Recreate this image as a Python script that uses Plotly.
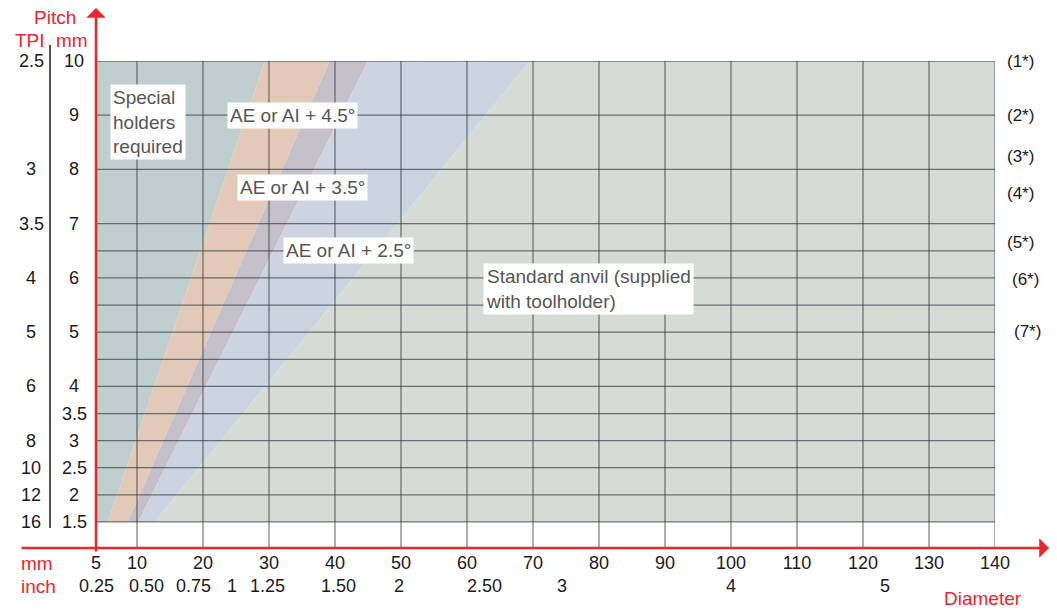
import plotly.graph_objects as go

# pitch (mm) rows of the grid and the labelled ones
grid_pitch = [10, 9, 8, 7, 6.5, 6, 5.5, 5, 4.5, 4, 3.5, 3, 2.5, 2, 1.5]
mm_labels = [10, 9, 8, 7, 6, 5, 4, 3.5, 3, 2.5, 2, 1.5]
tpi_labels = ["2.5", "3", "3.5", "4", "5", "6", "8", "10", "12", "16"]
tpi_rows = [10, 8, 7, 6, 5, 4, 3, 2.5, 2, 1.5]

# diameter (mm) columns
diam_grid = [10, 20, 30, 40, 50, 60, 70, 80, 90, 100, 110, 120, 130, 140]
inch_labels = ["0.25", "0.50", "0.75", "1", "1.25", "1.50", "2", "2.50", "3", "4", "5"]
inch_pos = [None, 11.4, 18.6, 24.4, 29.8, 40.6, 49.7, 62.6, 74.4, 100, 123.3]

# zone borders: diameter at pitch 1.5 (bottom) and pitch 10 (top)
b1 = (5.6, 29.4)
b2 = (8.6, 39.2)
b3 = (10.2, 45.0)
b4 = (12.7, 69.5)

zone_labels = ["Special<br>holders<br>required", "AE or AI + 4.5°", "AE or AI + 3.5°",
               "AE or AI + 2.5°", "Standard anvil (supplied<br>with toolholder)"]
zone_lx = [5.9, 23.6, 25.2, 32.1, 62.4]
zone_ly = [8.88, 9.0, 7.66, 6.5, 5.8]

notes = ["(1*)", "(2*)", "(3*)", "(4*)", "(5*)", "(6*)", "(7*)"]
notes_y = [10, 9.0, 8.23, 7.55, 6.66, 5.98, 5.02]
notes_x = [1.011, 1.011, 1.011, 1.011, 1.011, 1.017, 1.019]

X_LEFT = 3.79
Y_BOT = 1.02
P_LO, P_HI = 1.5, 10
RED = "#e8262d"
FONT = "Liberation Sans, Arial, sans-serif"

ML, MR, MT, MB = 96, 62, 61, 62
W, H = 1057, 610
PW, PH = W - ML - MR, H - MT - MB


def px(x):
    return (x - ML) / PW


def py(y):
    return (H - MB - y) / PH


fig = go.Figure()

zones = [
    ([X_LEFT, b1[0], b1[1], X_LEFT], "#bfcfcf"),
    ([b1[0], b2[0], b2[1], b1[1]], "#e3c9b7"),
    ([b2[0], b3[0], b3[1], b2[1]], "#c4c1ca"),
    ([b3[0], b4[0], b4[1], b3[1]], "#cdd4e1"),
    ([b4[0], 140, 140, b4[1]], "#d6dbd6"),
]
for xs, col in zones:
    fig.add_trace(go.Scatter(x=xs, y=[P_LO, P_LO, P_HI, P_HI], fill="toself", fillcolor=col,
                             mode="none", hoverinfo="skip", showlegend=False))

# grid lines on top of the zones
gx, gy = [], []
for p in grid_pitch:
    gx += [X_LEFT, 140, None]
    gy += [p, p, None]
for d in diam_grid:
    gx += [d, d, None]
    gy += [Y_BOT, P_HI, None]
fig.add_trace(go.Scatter(x=gx, y=gy, mode="lines", line=dict(color="rgba(40,45,50,0.62)", width=1.25),
                         hoverinfo="skip", showlegend=False))

ann = []
for t, x, y in zip(zone_labels, zone_lx, zone_ly):
    ann.append(dict(x=x, y=y, text=t, showarrow=False, xanchor="left", yanchor="middle", align="left",
                    bgcolor="white", borderpad=2, font=dict(size=19, color="#555555")))

for m in mm_labels:
    ann.append(dict(x=px(74), xref="paper", y=m, text=f"{m:g}", showarrow=False,
                    xanchor="center", yanchor="middle", font=dict(size=18, color="#1a1a1a")))
for t, r in zip(tpi_labels, tpi_rows):
    ann.append(dict(x=px(31), xref="paper", y=r, text=t, showarrow=False,
                    xanchor="center", yanchor="middle", font=dict(size=18, color="#1a1a1a")))
for t, y, x in zip(notes, notes_y, notes_x):
    ann.append(dict(x=x, xref="paper", y=y, text=t, showarrow=False,
                    xanchor="left", yanchor="middle", font=dict(size=17, color="#1a1a1a")))
for t, x in zip(inch_labels, inch_pos):
    ann.append(dict(x=X_LEFT if x is None else x, y=py(586), yref="paper", text=t, showarrow=False,
                    xanchor="center", yanchor="middle", font=dict(size=18, color="#1a1a1a")))

red_txt = [("Pitch", 55, 17), ("TPI", 30, 40), ("mm", 72, 40), ("mm", 37, 563),
           ("inch", 38, 586), ("Diameter", 983, 598)]
for t, x, y in red_txt:
    ann.append(dict(x=px(x), y=py(y), xref="paper", yref="paper", text=t, showarrow=False,
                    xanchor="center", yanchor="middle", font=dict(size=19, color=RED)))

# red axes with arrows
ann.append(dict(x=px(96), y=py(8), xref="paper", yref="paper", text="", showarrow=True,
                ax=0, ay=545, arrowhead=1, arrowsize=1.3, arrowwidth=2.5, arrowcolor=RED))
ann.append(dict(x=px(1049), y=py(548), xref="paper", yref="paper", text="", showarrow=True,
                ax=-1029, ay=0, arrowhead=1, arrowsize=1.3, arrowwidth=2.5, arrowcolor=RED))

fig.update_layout(
    width=W, height=H,
    margin=dict(l=ML, r=MR, t=MT, b=MB),
    paper_bgcolor="white", plot_bgcolor="white",
    font=dict(family=FONT, size=18, color="#1a1a1a"),
    annotations=ann,
    shapes=[dict(type="line", xref="paper", yref="paper", x0=px(50), x1=px(50), y0=py(528), y1=py(45),
                 line=dict(color="#1a1a1a", width=1.5))],
    xaxis=dict(range=[X_LEFT, 140], showgrid=False, zeroline=False, showline=False,
               tickvals=[X_LEFT] + diam_grid, ticktext=["5"] + [str(d) for d in diam_grid],
               ticks="", ticklabelstandoff=2, tickfont=dict(size=18, color="#1a1a1a")),
    yaxis=dict(range=[Y_BOT, P_HI], showgrid=False, zeroline=False, showline=False,
               showticklabels=False),
)

# drop the page's default body margin so the figure sits at the window origin
fig.write_html("out.html", config={"displayModeBar": False},
               post_script="document.body.style.margin='0';")
